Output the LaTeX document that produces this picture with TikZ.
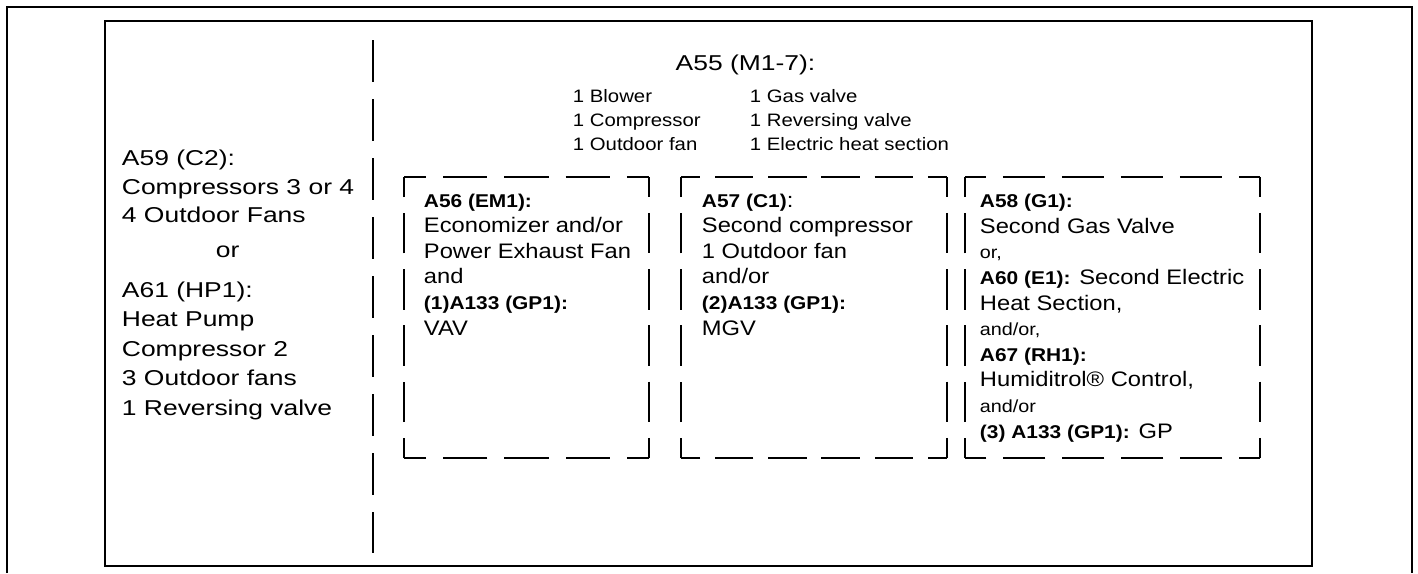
\documentclass[tikz,border=0pt]{standalone}
\usepackage{fontspec}
\setmainfont{Liberation Sans}[FakeStretch=1.13]
\newfontfamily\widefont{Liberation Sans}[FakeStretch=1.23]
\usetikzlibrary{positioning, calc}

% bold part name and the small joining words inside the option boxes
\newcommand{\lbl}[1]{{\fontsize{18.5}{25.6}\selectfont\bfseries #1}}
\newcommand{\conj}[1]{{\fontsize{17.5}{25.6}\selectfont #1}}

% dashed side that starts and ends with a half dash, so the corners close
\newcommand{\fitdash}[2]{%
  \path let \p1=($(#2)-(#1)$) in \pgfextra{\pgfmathsetmacro\sidelen{veclen(\x1,\y1)}\xdef\sidelen{\sidelen}};
  \pgfmathsetmacro\dashlen{0.72*\sidelen/max(1,round(\sidelen/58))}
  \pgfmathsetmacro\gaplen{\dashlen/0.72*0.28}
  \pgfmathsetmacro\halflen{\dashlen/2}
  \draw[dash pattern=on \dashlen pt off \gaplen pt, dash phase=\halflen pt] (#1) -- (#2);
}

\begin{document}
\begin{tikzpicture}[
    x=1pt, y=-1pt,
    line width=1.9pt,
    frame/.style={draw, rectangle, inner sep=0pt, outer sep=0pt},
    slot/.style={rectangle, inner sep=0pt, outer sep=0pt, minimum height=281pt},
    divider/.style={dash pattern=on 42pt off 17pt},
    wide/.style={font=\widefont\fontsize{21.5}{28.5}\selectfont, align=left, inner sep=0pt, anchor=base west},
    parts/.style={font=\fontsize{18}{24}\selectfont, align=left, inner sep=0pt, anchor=base west},
    slottext/.style={font=\fontsize{21}{25.6}\selectfont, align=left, inner sep=0pt, anchor=base west}
]
    \useasboundingbox (0,0) rectangle (1418,573);

    % outer frame runs off the bottom edge
    \draw (7,573) -- (7,7) -- (1412,7) -- (1412,573);
    \node[frame, minimum width=1207pt, minimum height=545pt, anchor=north west] (panel) at (105,21) {};

    \coordinate (divtop) at (373,40);
    \coordinate (divbot) at (373,553);
    \draw[divider] (divtop) -- (divbot);

    % left column (multi-line nodes sit on their last baseline)
    \node[wide] (c2) at (121,222.5) {A59 (C2):\\Compressors 3 or 4\\4 Outdoor Fans};
    \node[wide] (alt) at (215,257) {or};
    \node[wide, font=\widefont\fontsize{21.5}{29.6}\selectfont] (hp1) at (121,415.5)
        {A61 (HP1):\\Heat Pump\\Compressor 2\\3 Outdoor fans\\1 Reversing valve};

    % main board
    \node[wide, anchor=base] (m17) at (745.5,70) {A55 (M1-7):};
    \node[parts] (basic) at (572,150) {1 Blower\\1 Compressor\\1 Outdoor fan};
    \node[parts] (extra) at (749,150) {1 Gas valve\\1 Reversing valve\\1 Electric heat section};

    % option boxes
    \node[slot, minimum width=245pt, anchor=north west] (em) at (404,177) {};
    \node[slot, minimum width=266pt, right=32pt of em] (comp) {};
    \node[slot, minimum width=295pt, right=18pt of comp] (heat) {};

    \foreach \s in {em, comp, heat}{
        \fitdash{\s.north west}{\s.north east}
        \fitdash{\s.north east}{\s.south east}
        \fitdash{\s.south east}{\s.south west}
        \fitdash{\s.south west}{\s.north west}
    }

    \node[slottext] (emtxt) at ([shift={(19,158)}]em.north west)
        {\lbl{A56 (EM1):}\\Economizer and/or\\Power Exhaust Fan\\and\\\lbl{(1)A133 (GP1):}\\VAV};
    \node[slottext] (comptxt) at ([shift={(20,158)}]comp.north west)
        {\lbl{A57 (C1)}:\\Second compressor\\1 Outdoor fan\\and/or\\\lbl{(2)A133 (GP1):}\\MGV};
    \node[slottext] (heattxt) at ([shift={(14,261)}]heat.north west)
        {\lbl{A58 (G1):}\\Second Gas Valve\\\conj{or,}\\\lbl{A60 (E1):} Second Electric\\Heat Section,\\\conj{and/or,}\\\lbl{A67 (RH1):}\\Humiditrol® Control,\\\conj{and/or}\\\lbl{(3) A133 (GP1):} GP};
\end{tikzpicture}
\end{document}
